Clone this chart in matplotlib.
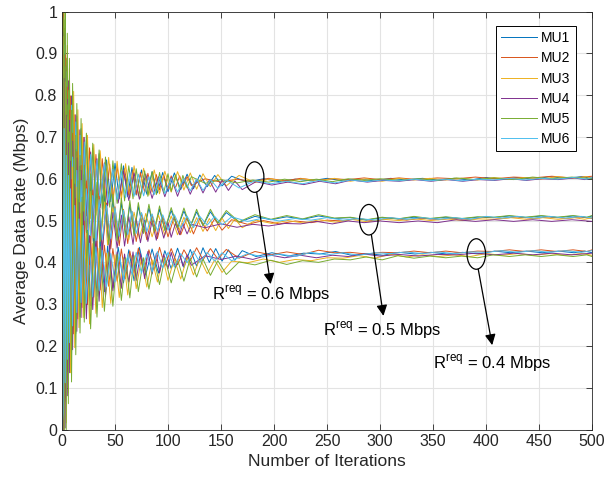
import matplotlib
matplotlib.use("Agg")
import matplotlib.pyplot as plt
from matplotlib.patches import Ellipse

plt.rcParams['font.family'] = ['Liberation Sans', 'DejaVu Sans']
plt.rcParams['mathtext.fontset'] = 'custom'
plt.rcParams['mathtext.rm'] = 'Liberation Sans'

# iteration grids at which the curve corners were read (curves are not in step)
iters_a = [0, 1, 2, 3, 4, 5, 6, 7, 8, 10, 12, 14, 16, 18, 20, 23, 26, 29, 32, 35, 38,
           42, 46, 50, 54, 58, 62, 66, 70, 75, 80, 85, 90, 95, 100, 106, 112, 118, 124,
           130, 137, 144, 151, 160, 175, 190, 205, 220, 235, 250, 265, 280, 295, 310,
           325, 340, 355, 370, 385, 400, 415, 430, 445, 460, 475, 490, 500]
iters_b = [0, 1, 2, 3, 4, 5, 6, 7, 9, 11, 13, 15, 17, 19, 21, 24, 27, 30, 33, 36, 40,
           44, 48, 52, 56, 60, 64, 68, 72, 77, 82, 87, 92, 97, 103, 109, 115, 121, 127,
           133, 140, 147, 155, 167, 182, 197, 212, 227, 242, 257, 272, 287, 302, 317,
           332, 347, 362, 377, 392, 407, 422, 437, 452, 467, 482, 495, 500]
iters_c = [0, 1, 2, 3, 4, 5, 6, 7, 8, 10, 12, 14, 16, 18, 20, 23, 26, 29, 32, 35, 38,
           41, 45, 48, 52, 56, 59, 63, 67, 70, 74, 78, 81, 85, 89, 92, 96, 100, 103,
           107, 111, 114, 118, 122, 135, 150, 165, 180, 195, 210, 225, 240, 255, 270,
           285, 300, 318, 336, 354, 372, 390, 408, 426, 444, 462, 481, 500]
iters_d = [0, 1, 2, 3, 4, 5, 6, 7, 9, 11, 13, 15, 17, 19, 21, 24, 27, 30, 33, 36, 40,
           43, 48, 53, 58, 63, 68, 73, 79, 85, 91, 97, 103, 109, 115, 121, 127, 133, 139,
           145, 151, 157, 163, 170, 183, 198, 213, 228, 243, 258, 273, 288, 303, 318,
           333, 348, 363, 378, 393, 408, 423, 438, 453, 468, 483, 493, 500]

mu_names = ['MU1', 'MU2', 'MU3', 'MU4', 'MU5', 'MU6']

# average data rate in kbps -- R_req = 0.6 Mbps
r06_mu1 = [0,1050,200,960,280,890,340,840,380,790,430,750,470,720,490,693,513,673,530,660,541,645,545,637,552,631,557,627,561,621,563,617,566,615,569,614,574,611,576,609,581,608,583,606,
           592,600,593,599,595,601,595,599,595,601,597,601,597,601,597,603,599,603,599,605,601,605,601]
r06_mu2 = [0,195,960,276,888,339,834,384,798,429,753,465,717,492,699,511,674,529,658,541,648,545,635,552,629,558,624,561,621,563,615,567,613,568,610,573,609,576,607,578,607,582,605,584,
           600,592,599,593,601,595,601,596,600,598,602,598,602,598,602,600,604,600,604,602,606,602,606]
r06_mu3 = [0,1095,160,996,248,919,314,864,358,809,413,765,457,732,479,704,505,682,524,667,536,651,541,642,549,636,554,631,559,625,561,621,564,618,568,617,573,614,575,612,581,610,583,608,
           591,600,592,600,595,601,594,600,594,601,597,601,597,601,597,603,599,603,599,605,601,605,601]
r06_mu4 = [0,210,945,290,870,350,834,384,798,429,753,465,717,492,699,501,664,519,648,531,638,535,625,542,619,548,614,551,611,553,605,557,603,558,600,563,599,566,597,568,597,572,595,574,
           593,585,592,586,594,588,597,592,596,594,598,594,598,594,598,596,600,596,600,598,602,598,602]
r06_mu5 = [0,1140,120,1032,216,948,288,888,336,828,396,780,444,744,468,709,493,685,513,669,527,652,532,643,541,636,547,631,552,624,554,619,558,617,562,615,567,612,570,609,575,608,578,605,
           589,598,590,597,592,599,593,599,593,600,596,600,596,600,596,602,598,602,598,604,600,604,600]
r06_mu6 = [0,240,920,312,856,368,808,408,776,448,736,480,704,504,688,514,658,530,644,540,636,543,623,550,618,555,614,558,611,559,605,562,603,564,601,568,600,571,599,572,598,577,597,578,
           595,588,594,588,596,590,597,593,597,595,599,595,599,595,599,597,601,597,601,599,603,599,603]

# R_req = 0.5 Mbps
r05_mu1 = [0,50,900,140,820,210,760,260,720,310,670,350,630,380,610,412,592,432,575,445,564,450,550,458,543,464,538,468,534,472,530,476,527,478,524,483,523,486,521,488,521,494,519,496,
           510,502,509,503,511,505,507,501,507,504,508,504,508,504,508,507,511,507,511,507,511,507,511]
r05_mu2 = [0,995,60,896,148,819,214,764,258,709,313,665,357,632,379,595,396,573,415,558,427,542,432,533,440,527,445,522,450,518,454,514,457,511,461,510,466,507,468,505,475,504,477,502,
           491,500,492,499,495,501,499,505,499,507,501,506,502,506,502,509,505,509,505,509,505,509,505]
r05_mu3 = [0,95,860,176,788,239,734,284,698,329,653,365,617,392,599,407,570,425,554,437,544,441,531,448,525,454,520,457,517,461,513,465,511,466,508,471,507,474,505,476,506,481,504,483,
           501,493,500,494,502,496,503,497,503,500,504,500,504,500,504,503,507,503,507,503,507,503,507]
r05_mu4 = [0,950,100,860,180,790,240,740,280,690,330,650,370,620,390,575,395,555,412,542,423,527,427,519,434,513,439,509,443,505,447,501,450,499,453,498,458,495,460,493,466,493,468,491,
           483,492,484,491,487,493,492,498,492,499,495,499,495,499,495,502,498,502,498,502,498,502,498]
r05_mu5 = [0,0,980,68,884,152,812,212,764,272,704,320,656,356,632,396,612,420,592,436,578,443,563,452,554,459,548,464,543,469,539,474,535,476,531,482,530,485,527,488,527,494,524,497,
           514,503,512,504,514,506,508,502,508,504,510,505,509,505,509,508,512,508,512,508,512,508,512]
r05_mu6 = [0,860,180,788,244,732,292,692,324,652,364,620,396,596,412,576,432,560,446,550,454,537,457,530,462,525,466,522,469,519,473,516,475,514,477,514,482,511,483,510,489,510,490,509,
           498,506,499,505,501,507,501,505,501,507,503,507,503,507,503,510,506,510,506,510,506,510,506]

# R_req = 0.4 Mbps
r04_mu1 = [0,850,0,760,80,690,140,640,180,590,230,550,270,520,290,477,297,457,319,449,330,439,339,436,351,430,356,436,370,432,374,428,385,434,388,431,391,435,400,433,403,430,405,428,
           414,423,415,422,420,426,417,421,417,424,420,424,420,424,420,427,423,427,423,427,423,427,423]
r04_mu2 = [0,0,760,76,688,139,634,184,598,229,553,265,517,292,499,299,462,317,451,334,441,343,433,355,432,361,427,374,434,378,430,382,436,391,433,394,430,404,435,406,433,408,431,410,
           426,418,425,419,429,423,424,420,424,423,427,423,427,423,427,426,430,426,430,426,430,426,430]
r04_mu3 = [0,940,0,832,16,748,88,688,136,628,196,580,244,544,268,469,253,445,278,434,292,422,302,418,316,411,322,416,337,411,341,406,353,412,357,408,360,412,370,409,373,406,376,403,
           399,408,400,407,404,411,410,416,410,419,413,418,414,418,414,421,417,421,417,421,417,421,417]
r04_mu4 = [0,0,840,4,752,81,686,136,642,191,587,235,543,268,521,265,464,287,450,307,438,318,428,332,425,338,420,353,425,357,421,361,426,372,422,375,419,385,424,387,420,391,418,393,
           416,407,415,407,418,411,417,411,417,414,420,415,419,415,419,418,422,418,422,418,422,418,422]
r04_mu5 = [0,985,0,868,0,777,62,712,114,647,179,595,231,556,257,476,241,450,269,438,283,425,295,419,309,411,315,416,330,411,336,406,347,411,351,407,355,410,365,408,369,404,371,401,
           394,405,395,404,400,408,406,413,406,416,410,415,411,415,411,418,414,418,414,418,414,418,414]
r04_mu6 = [0,40,720,112,656,168,608,208,576,248,536,280,504,304,488,302,446,318,437,333,429,341,421,353,421,358,417,371,424,374,420,377,426,387,424,389,421,399,427,400,424,403,423,404,
           421,413,420,414,424,418,423,417,423,421,425,421,425,421,425,424,428,424,428,424,428,424,428]

colors = ['#0072BD', '#D95319', '#EDB120', '#7E2F8E', '#77AC30', '#4DBEEE']

bands = [
    ([r06_mu1, r06_mu2, r06_mu3, r06_mu4, r06_mu5, r06_mu6], [iters_a, iters_c, iters_b, iters_d, iters_c, iters_b]),
    ([r05_mu1, r05_mu2, r05_mu3, r05_mu4, r05_mu5, r05_mu6], [iters_b, iters_a, iters_d, iters_c, iters_b, iters_a]),
    ([r04_mu1, r04_mu2, r04_mu3, r04_mu4, r04_mu5, r04_mu6], [iters_d, iters_b, iters_a, iters_c, iters_b, iters_a]),
]

fig = plt.figure(figsize=(6.06, 4.8), dpi=100)
ax = fig.add_axes([0.1023, 0.105, 0.8747, 0.871])

for b, (curves, grids) in enumerate(bands):
    for i in range(6):
        y = [v / 1000.0 for v in curves[i]]
        ax.plot(grids[i], y, color=colors[i], lw=0.7,
                label=mu_names[i] if b == 0 else None)

ax.set_xlim(0, 500)
ax.set_ylim(0, 1)
ax.set_xticks(range(0, 501, 50))
ax.set_yticks([k / 10 for k in range(11)])
ax.set_yticklabels(['0', '0.1', '0.2', '0.3', '0.4', '0.5', '0.6', '0.7', '0.8', '0.9', '1'])
ax.grid(True, color='#e3e3e3', lw=0.8)
ax.set_axisbelow(True)
ax.tick_params(direction='in', top=True, right=True, length=4, width=0.6,
               colors='#262626', labelsize=11.5)
for s in ax.spines.values():
    s.set_linewidth(0.6)
    s.set_color('#262626')

ax.set_xlabel('Number of Iterations', fontsize=12.5, color='#262626', labelpad=3)
ax.set_ylabel('Average Data Rate (Mbps)', fontsize=12.5, color='#262626', labelpad=4)

leg = ax.legend(loc='upper right', bbox_to_anchor=(0.969, 0.965), borderaxespad=0,
                fontsize=10, fancybox=False, framealpha=1, edgecolor='k',
                handlelength=2.6, handletextpad=0.3, labelspacing=0.45, borderpad=0.35)
leg.get_frame().set_linewidth(0.7)

# ellipses, arrows and labels for the three target rates
marks = [(181.7, 0.604, 183.6, 0.568, 196.8, 0.348, 141.2, 0.310, '0.6'),
         (289.4, 0.502, 291.9, 0.465, 303.2, 0.272, 245.8, 0.224, '0.5'),
         (390.8, 0.420, 392.6, 0.384, 405.8, 0.202, 350.3, 0.145, '0.4')]
for cx, cy, sx, sy, tx, ty, lx, ly, val in marks:
    ax.add_patch(Ellipse((cx, cy), 17.5, 0.073, fill=False, ec='k', lw=0.9, zorder=5))
    ax.annotate('', xy=(tx, ty), xytext=(sx, sy),
                arrowprops=dict(arrowstyle='-|>', color='k', lw=0.9, mutation_scale=16,
                                shrinkA=0, shrinkB=0), zorder=5)
    ax.text(lx, ly, r'R$^{\mathrm{req}}$ = ' + val + ' Mbps', fontsize=12,
            va='baseline', ha='left', color='k', zorder=6)

fig.savefig('out.png', dpi=100)
